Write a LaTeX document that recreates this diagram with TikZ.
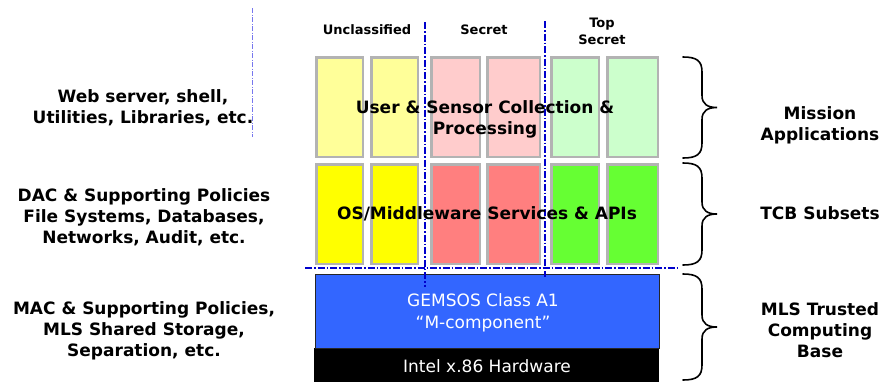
\documentclass[tikz,border=0pt]{standalone}
\usepackage{fontspec}
\setmainfont{DejaVu Sans}
\usepackage{tikz}
\usetikzlibrary{positioning}
\usepackage{xcolor}
\definecolor{unclLite}{HTML}{FFFF99}
\definecolor{secLite}{HTML}{FFCCCC}
\definecolor{topLite}{HTML}{CCFFCC}
\definecolor{unclDark}{HTML}{FFFF00}
\definecolor{secDark}{HTML}{FF7F7F}
\definecolor{topDark}{HTML}{66FF33}
\definecolor{cellGray}{HTML}{B3B3B3}
\definecolor{kernBlue}{HTML}{3366FF}
\definecolor{lineBlue}{HTML}{0000CC}
\definecolor{faintBlue}{HTML}{7777EE}
\tikzset{
  % level cells
  cell/.style={
    rectangle, draw=cellGray, line width=2.5pt,
    minimum height=99.5pt, inner sep=0pt
  },
  % labels
  boldlbl/.style={
    align=center, inner sep=0pt,
    font=\fontsize{17}{21}\selectfont\bfseries
  },
  headlbl/.style={
    align=center, inner sep=0pt,
    font=\fontsize{13}{17}\selectfont\bfseries
  },
  whitelbl/.style={
    align=center, inner sep=0pt, text=white,
    font=\fontsize{17}{22}\selectfont
  },
  levelline/.style={
    draw=lineBlue, line width=1.6pt,
    dash pattern=on 7pt off 2pt on 1.5pt off 2pt
  },
  bracestroke/.style={
    draw=black, line width=1.6pt, line cap=round
  }
}
% curly brace on the right side, from top y to bottom y
\newcommand{\sidebrace}[2]{%
  \draw[bracestroke] (683,#1) .. controls (697,#1) and (702,#1+4) .. (702,#1+15)
    -- (702,{(#1+#2)/2-12}) .. controls (702,{(#1+#2)/2-3}) and (708,{(#1+#2)/2}) .. (717,{(#1+#2)/2})
    .. controls (708,{(#1+#2)/2}) and (702,{(#1+#2)/2+3}) .. (702,{(#1+#2)/2+12})
    -- (702,#2-15) .. controls (702,#2-4) and (697,#2) .. (683,#2);}

\begin{document}
\begin{tikzpicture}[x=1pt, y=-1pt]
  \useasboundingbox (0,0) rectangle (883,381);

  % hardware and kernel
  \node[rectangle, fill=black, minimum width=345pt, minimum height=34pt, inner sep=0pt,
        anchor=north west] (hw) at (314,348) {};
  \node[rectangle, fill=kernBlue, draw=black!85, line width=1.2pt, minimum width=344pt,
        minimum height=74pt, inner sep=0pt, anchor=north west] (kern) at (314.5,273.5) {};

  % mission applications row
  \node[cell, fill=unclLite, minimum width=46.5pt] (ua1) at (339.5,107) {};
  \node[cell, fill=unclLite, minimum width=46.5pt] (ua2) at (394.5,107) {};
  \node[cell, fill=secLite, minimum width=48.5pt] (sa1) at (455.5,107) {};
  \node[cell, fill=secLite, minimum width=52.5pt] (sa2) at (513.5,107) {};
  \node[cell, fill=topLite, minimum width=47.5pt] (ta1) at (575,107) {};
  \node[cell, fill=topLite, minimum width=50.5pt] (ta2) at (632.5,107) {};

  % TCB subset row
  \node[cell, fill=unclDark, minimum width=46.5pt] (ub1) at (339.5,214) {};
  \node[cell, fill=unclDark, minimum width=46.5pt] (ub2) at (394.5,214) {};
  \node[cell, fill=secDark, minimum width=48.5pt] (sb1) at (455.5,214) {};
  \node[cell, fill=secDark, minimum width=52.5pt] (sb2) at (513.5,214) {};
  \node[cell, fill=topDark, minimum width=47.5pt] (tb1) at (575,214) {};
  \node[cell, fill=topDark, minimum width=50.5pt] (tb2) at (632.5,214) {};

  % level separators
  \coordinate (sepA top) at (425,22);
  \coordinate (sepA bot) at (425,287);
  \coordinate (sepB top) at (545,21);
  \coordinate (sepB bot) at (545,277);
  \coordinate (sepH west) at (305,268);
  \coordinate (sepH east) at (677,268);
  \coordinate (thin top) at (252,8);
  \coordinate (thin bot) at (252,137);
  \draw[levelline] (sepA top) -- (sepA bot);
  \draw[levelline] (sepB top) -- (sepB bot);
  \draw[levelline] (sepH west) -- (sepH east);
  \draw[draw=faintBlue, line width=0.8pt, dash pattern=on 5pt off 1.5pt on 1pt off 1.5pt]
    (thin top) -- (thin bot);

  % column heads
  \node[headlbl] (hdrU) at (367,30) {Unclassified};
  \node[headlbl] (hdrS) at (484,30) {Secret};
  \node[headlbl] (hdrT) at (602,31) {Top\\Secret};

  % layer names
  \node[boldlbl] (appText) at (485,119) {User \& Sensor Collection \&\\Processing};
  \node[boldlbl] (osText) at (487,213.5) {OS/Middleware Services \& APIs};
  \node[whitelbl] (gemsos) at (483,313) {GEMSOS Class A1\\ “M-component”};
  \node[whitelbl] (intel) at (487,366) {Intel x.86 Hardware};

  % left side
  \node[boldlbl] (leftApp) at (143,107.5) {Web server, shell,\\Utilities, Libraries, etc.};
  \node[boldlbl] (leftDac) at (144,217.5) {DAC \& Supporting Policies\\File Systems, Databases,\\Networks, Audit, etc.};
  \node[boldlbl] (leftMac) at (144,331) {MAC \& Supporting Policies,\\MLS Shared Storage,\\Separation, etc.};

  % right side
  \sidebrace{57}{158}
  \sidebrace{163}{265}
  \sidebrace{274}{380}
  \node[boldlbl] (rMission) at (820,125) {Mission\\Applications};
  \node[boldlbl] (rTcb) at (820,213) {TCB Subsets};
  \node[boldlbl] (rMls) at (820,330.5) {MLS Trusted\\Computing\\Base};

\end{tikzpicture}
\end{document}
